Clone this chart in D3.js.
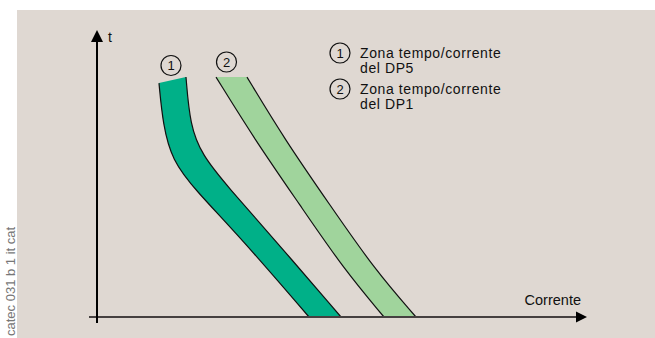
<!DOCTYPE html>
<html><head><meta charset="utf-8">
<script src="https://cdn.jsdelivr.net/npm/d3@7"></script>
<style>html,body{margin:0;padding:0;background:#fff;}svg{display:block;font-family:"Liberation Sans",Arial,Helvetica,sans-serif;}</style>
</head><body>
<script>
// Schematic data in abstract units: current (x, 0-100) and time (y, 0-100)
const band1Left  = [[12.65,81.5],[13.47,66.9],[15.31,54.7],[20.0,44.3],[29.18,27.9],[43.27,0]];
const band1Right = [[18.16,83.6],[18.98,66.9],[21.43,56.4],[26.73,45.3],[36.33,26.8],[49.8,0]];
const band2Left  = [[24.29,83.6],[32.24,61.7],[41.43,39.0],[50.2,17.1],[58.57,0]];
const band2Right = [[30.61,83.6],[38.37,61.7],[47.55,39.0],[56.73,16.4],[65.1,0]];
const bandLabels = ["1","2"];
const legendLines = [["Zona tempo/corrente","del DP5"],["Zona tempo/corrente","del DP1"]];
const axisLabels = {x:"Corrente", y:"t"};
const sideCode = "catec 031 b 1 it cat";

const W=655,H=338;
const svg=d3.select("body").append("svg").attr("width",W).attr("height",H);
svg.append("rect").attr("x",17).attr("y",10).attr("width",W-17).attr("height",H-10).attr("fill","#dfd8d2");

const x=d3.scaleLinear().domain([0,100]).range([97,587]);
const y=d3.scaleLinear().domain([0,100]).range([317,30]);

const line=d3.line().x(d=>x(d[0])).y(d=>y(d[1])).curve(d3.curveBasis);
function bandPath(L,R){
  const a=line(L); const b=line(R.slice().reverse());
  return a+"L"+b.slice(1)+"Z";
}
const bands=[{L:band1Left,R:band1Right,fill:"#00b088"},{L:band2Left,R:band2Right,fill:"#a0d49c"}];
bands.forEach(b=>{
  svg.append("path").attr("d",bandPath(b.L,b.R)).attr("fill",b.fill);
  [b.L,b.R].forEach(e=>svg.append("path").attr("d",line(e)).attr("fill","none").attr("stroke","#111").attr("stroke-width",1.2));
});

// axes
svg.append("line").attr("x1",89).attr("x2",x(100)-10).attr("y1",y(0)).attr("y2",y(0)).attr("stroke","#454040").attr("stroke-width",2);
svg.append("path").attr("d",`M${x(100)},${y(0)}L${x(100)-11},${y(0)-5.5}L${x(100)-11},${y(0)+5.5}Z`).attr("fill","#000");
svg.append("line").attr("x1",x(0)).attr("x2",x(0)).attr("y1",y(0)+6).attr("y2",y(100)+10).attr("stroke","#000").attr("stroke-width",2);
svg.append("path").attr("d",`M${x(0)},${y(100)}L${x(0)-6},${y(100)+12}L${x(0)+6},${y(100)+12}Z`).attr("fill","#000");
svg.append("text").attr("x",x(0)+11).attr("y",y(100)+12).attr("font-size",14).attr("fill","#111").text(axisLabels.y);
svg.append("text").attr("x",x(100)-6).attr("y",y(0)-12).attr("text-anchor","end").attr("font-size",14.5).attr("fill","#111").text(axisLabels.x);

// circled numbers at top of bands
function circ(cx,cy,t){
  svg.append("circle").attr("cx",cx).attr("cy",cy).attr("r",10).attr("fill","none").attr("stroke","#111").attr("stroke-width",1.2);
  svg.append("text").attr("x",cx).attr("y",cy+4.5).attr("text-anchor","middle").attr("font-size",13).attr("fill","#111").text(t);
}
circ(171,65.5,bandLabels[0]);
circ(226.5,62,bandLabels[1]);

// legend
legendLines.forEach((ls,i)=>{
  const cy=53+i*36;
  circ(340,cy,bandLabels[i]);
  ls.forEach((t,j)=>svg.append("text").attr("x",360).attr("y",cy+5+j*14.5).attr("font-size",14).attr("letter-spacing",0.6).attr("fill","#111").text(t));
});

// side code
svg.append("text").attr("transform","translate(15,336) rotate(-90)").attr("font-size",13).attr("fill","#777").text(sideCode);
</script>
</body></html>
